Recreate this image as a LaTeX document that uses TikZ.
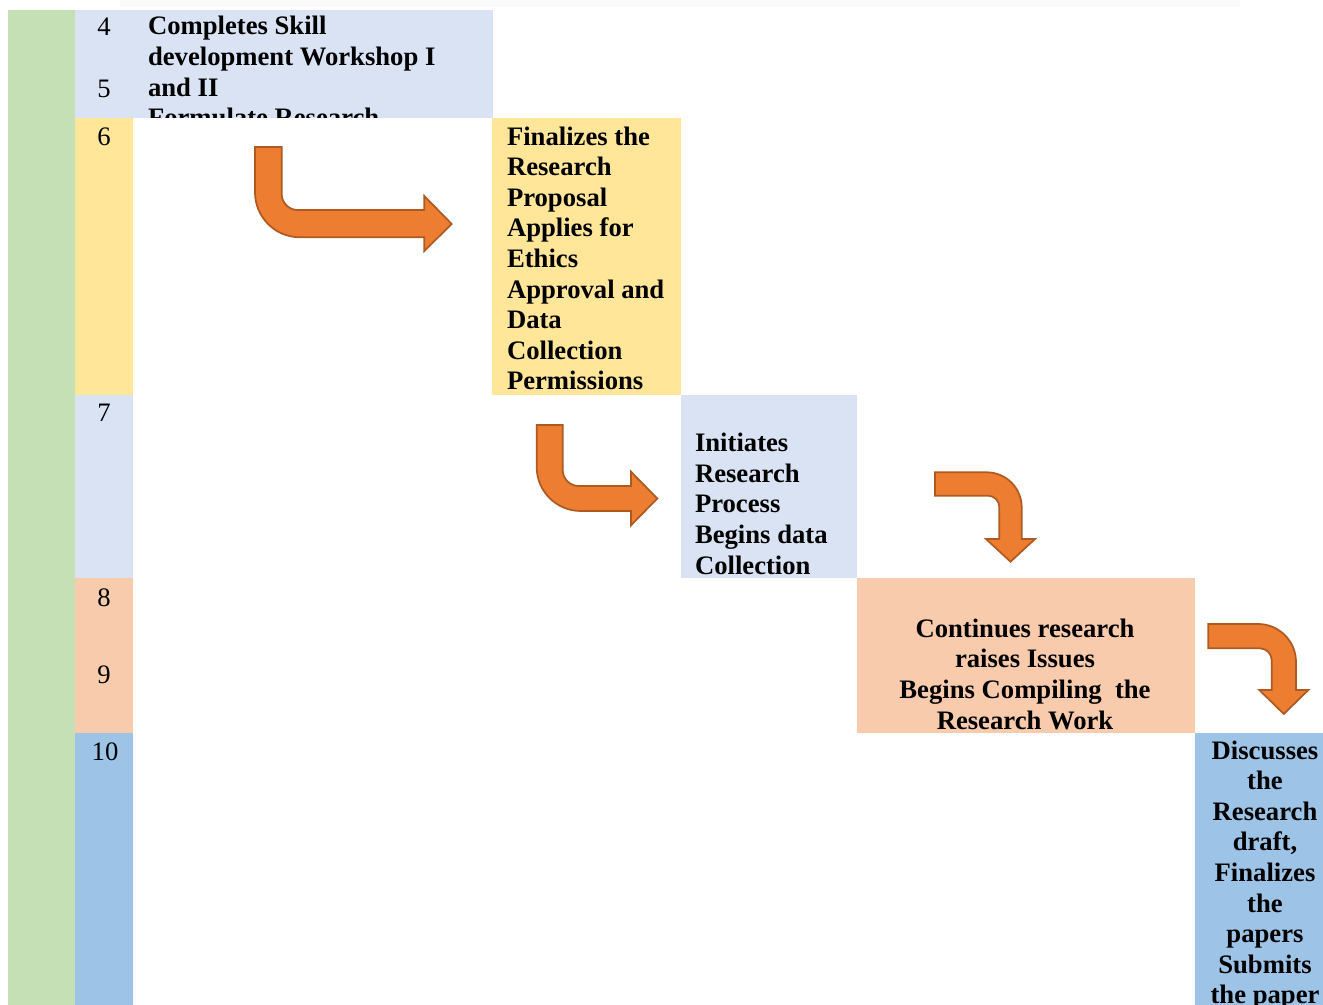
\documentclass[tikz,border=0pt]{standalone}
\usepackage{fontspec}
\setmainfont{Liberation Serif}
\definecolor{cgreen}{HTML}{C5E0B4}
\definecolor{clblue}{HTML}{DAE3F3}
\definecolor{cyellow}{HTML}{FFE699}
\definecolor{cpeach}{HTML}{F8CBAD}
\definecolor{cblue}{HTML}{9DC3E6}
\definecolor{arrowfill}{HTML}{ED7D31}
\definecolor{arrowline}{HTML}{AE5A21}
\begin{document}
\begin{tikzpicture}[x=0.75pt,y=-0.75pt,
  lbl/.style={font=\fontsize{20}{22.95}\selectfont\bfseries, inner sep=0, outer sep=0, align=left, anchor=base west},
  clbl/.style={font=\fontsize{20}{22.95}\selectfont\bfseries, inner sep=0, outer sep=0, align=center, anchor=base},
  num/.style={font=\fontsize{20}{22.95}\selectfont, inner sep=0, outer sep=0, anchor=base},
  barrow/.style={fill=arrowfill, draw=arrowline, line width=1.3pt, line join=miter}]
\useasboundingbox (0,0) rectangle (1323,1005);
\fill[black!2] (120,0) rectangle (1240,7);
% columns
\fill[cgreen] (8,10) rectangle (75,1005);
\fill[clblue] (75,10) rectangle (493,118);
\fill[cyellow] (75,118) rectangle (133,395);
\fill[cyellow] (492,118) rectangle (681,395);
\fill[clblue] (75,395) rectangle (133,578);
\fill[clblue] (681,395) rectangle (857,578);
\fill[cpeach] (75,578) rectangle (133,733);
\fill[cpeach] (857,578) rectangle (1195,733);
\fill[cblue] (75,733) rectangle (133,1005);
\fill[cblue] (1195,733) rectangle (1323,1005);
% numbers
\node[num] (n4) at (104,36) {4};
\node[num] (n5) at (104,98) {5};
\node[num] (n6) at (104,146) {6};
\node[num] (n7) at (104,421) {7};
\node[num] (n8) at (104,606) {8};
\node[num] (n9) at (104,683) {9};
\node[num] (n10) at (105,760) {10};
% texts (anchor = baseline of the last line)
\begin{scope}
\clip (75,10) rectangle (493,118);
\node[lbl] (t1) at (148,126.8) {Completes Skill\\development Workshop I\\and II\\Formulate Research};
\end{scope}
\node[lbl] (t2) at (507,389.8) {Finalizes the\\Research\\Proposal\\Applies for\\Ethics\\Approval and\\Data\\Collection\\Permissions};
\node[lbl] (t3) at (695,574) {Initiates\\Research\\Process\\Begins data\\Collection};
\node[clbl] (t4) at (1025,729) {Continues research\\raises Issues\\Begins Compiling\ \ the\\Research Work};
\node[clbl] (t5) at (1265,1003.8) {Discusses\\the\\Research\\draft,\\Finalizes\\the\\papers\\Submits\\the paper};
% arrows
\path[barrow] (255,147) -- (281.7,147) -- (281.7,194) .. controls (281.7,202.8) and (288.9,210) .. (297.7,210) -- (424.3,210) -- (424.3,196) -- (451.7,224) -- (424.3,251) -- (424.3,237.3) -- (300,237.3) .. controls (275.1,237.3) and (255,217.2) .. (255,192.3) -- cycle;
\path[barrow] (536.7,425) -- (562.7,425) -- (562.7,470) .. controls (562.7,478.8) and (569.9,486) .. (578.7,486) -- (631,486) -- (631,471.7) -- (657.3,498.5) -- (631,525.3) -- (631,511) -- (580.7,511) .. controls (556.4,511) and (536.7,491.3) .. (536.7,467) -- cycle;
\path[barrow] (935,472.3) -- (986.7,472.3) .. controls (1006,472.3) and (1021.7,488) .. (1021.7,507.3) -- (1021.7,539) -- (1035,539) -- (1010.5,561.7) -- (986,539) -- (999.3,539) -- (999.3,507) .. controls (999.3,500.8) and (994.2,495.7) .. (988,495.7) -- (935,495.7) -- cycle;
\path[barrow] (1208.3,624) -- (1258,624) .. controls (1279,624) and (1296,641) .. (1296,662) -- (1296,690) -- (1308.3,690) -- (1283.8,714) -- (1259.3,690) -- (1271.7,690) -- (1271.7,660.3) .. controls (1271.7,653.7) and (1266.3,648.3) .. (1259.7,648.3) -- (1208.3,648.3) -- cycle;
\end{tikzpicture}
\end{document}
